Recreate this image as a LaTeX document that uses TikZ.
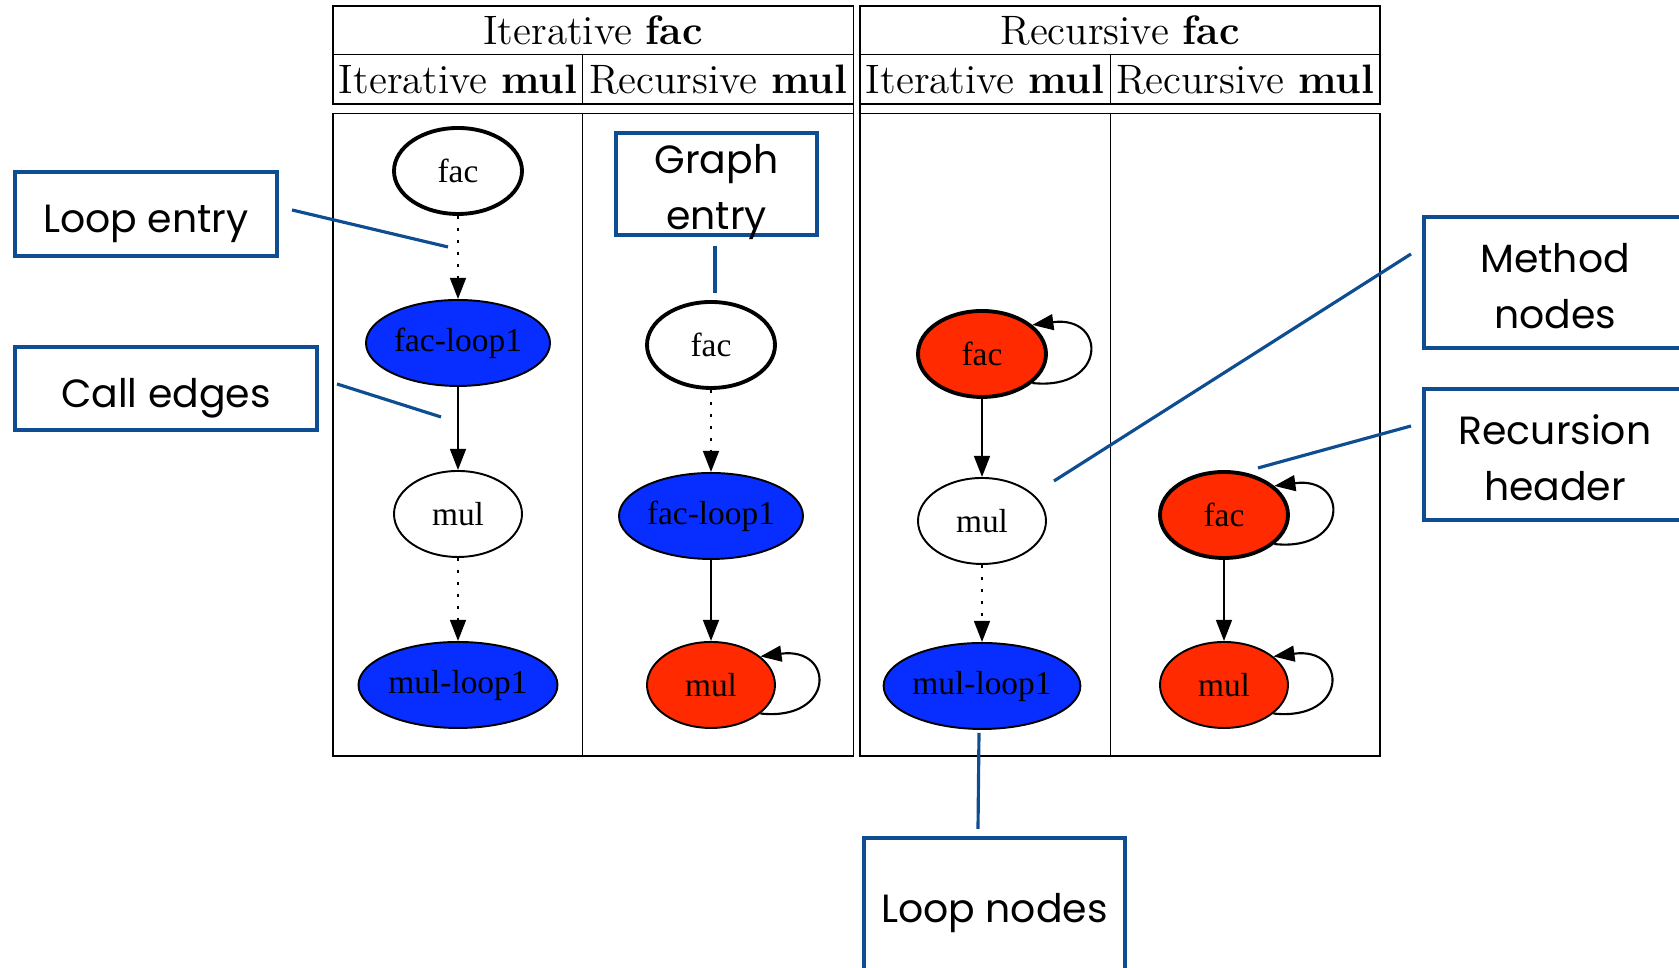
\documentclass[tikz,border=0pt]{standalone}
\usepackage{fontspec}
\newfontfamily\graphfont{Liberation Serif}
\newfontfamily\notefont{Poppins}
\usetikzlibrary{shapes.geometric,arrows.meta}
\definecolor{noteblue}{RGB}{14,77,146}
\definecolor{loopblue}{RGB}{8,46,255}
\definecolor{recred}{RGB}{255,42,0}
\tikzset{
  cg/.style={ellipse,draw,line width=0.55pt,minimum width=1.28cm,minimum height=0.86cm,inner sep=0pt,font=\graphfont\fontsize{9.5}{11}\selectfont},
  entrynode/.style={cg,line width=1.1pt},
  loopnode/.style={cg,fill=loopblue,minimum width=1.84cm},
  recnode/.style={cg,fill=recred},
  callarrow/.style={line width=0.6pt,-{Triangle[length=6pt,width=4.5pt]}},
  entryarrow/.style={callarrow,dash pattern=on 0.8pt off 2.6pt},
  notebox/.style={draw=noteblue,line width=0.9pt,align=center,inner sep=0pt,text height=10.8pt,text depth=0pt,font=\notefont\fontsize{11.2}{15.9}\selectfont},
  twolines/.style={text height=26pt},
  noteline/.style={draw=noteblue,line width=0.9pt},
  tab/.style={line width=0.5pt},
  head/.style={font=\fontsize{11.7}{14}\selectfont}
}
\begin{document}
\begin{tikzpicture}
\path[use as bounding box,clip] (0,0) rectangle (16.79,9.68);
\draw[tab] (3.33,9.616) rectangle (8.534,8.64);
\draw[tab] (8.60,9.616) rectangle (13.80,8.64);
\draw[tab] (3.33,9.134) -- (8.534,9.134);
\draw[tab] (8.60,9.134) -- (13.80,9.134);
\draw[tab] (3.33,8.545) rectangle (8.534,2.12);
\draw[tab] (8.60,8.545) rectangle (13.80,2.12);
\foreach \x in {8.534,8.60} {
\draw[tab] (\x,8.64) -- (\x,8.545);}
\foreach \x in {5.825,11.104} {
\draw[tab] (\x,9.134) -- (\x,8.64);
\draw[tab] (\x,8.545) -- (\x,2.12);}
\node[head] (itfac) at (5.93,9.375) {Iterative \textbf{fac}};
\node[head] (recfac) at (11.2,9.375) {Recursive \textbf{fac}};
\node[head] (itmula) at (4.58,8.887) {Iterative \textbf{mul}};
\node[head] (recmula) at (7.18,8.887) {Recursive \textbf{mul}};
\node[head] (itmulb) at (9.85,8.887) {Iterative \textbf{mul}};
\node[head] (recmulb) at (12.45,8.887) {Recursive \textbf{mul}};
\node[entrynode] (fac1) at (4.58,7.97) {fac};
\node[loopnode] (facloop1) at (4.58,6.25) {fac-loop1};
\node[cg] (mul1) at (4.58,4.54) {mul};
\node[loopnode,minimum width=1.99cm] (mulloop1) at (4.58,2.83) {mul-loop1};
\node[entrynode] (fac2) at (7.11,6.23) {fac};
\node[loopnode] (facloop2) at (7.11,4.52) {fac-loop1};
\node[recnode] (mul2) at (7.11,2.83) {mul};
\node[recnode,entrynode] (fac3) at (9.82,6.14) {fac};
\node[cg] (mul3) at (9.82,4.47) {mul};
\node[loopnode,minimum width=1.93cm] (mulloop3) at (9.82,2.82) {mul-loop1};
\node[recnode,entrynode] (fac4) at (12.24,4.53) {fac};
\node[recnode] (mul4) at (12.24,2.83) {mul};
\draw[entryarrow] (fac1) -- (facloop1);
\draw[callarrow] (facloop1) -- (mul1);
\draw[entryarrow] (mul1) -- (mulloop1);
\draw[entryarrow] (fac2) -- (facloop2);
\draw[callarrow] (facloop2) -- (mul2);
\draw[callarrow] (fac3) -- (mul3);
\draw[entryarrow] (mul3) -- (mulloop3);
\draw[callarrow] (fac4) -- (mul4);
\foreach \n in {mul2,fac3,fac4,mul4} {
\draw[callarrow] (\n.-30) .. controls +(0.75,-0.08) and +(0.75,0.1) .. (\n.30);}
\node[notebox,minimum width=2.62cm,minimum height=0.84cm] (loopentry) at (1.46,7.54) {Loop entry};
\node[notebox,minimum width=3.02cm,minimum height=0.83cm] (calledges) at (1.66,5.795) {Call edges};
\node[notebox,twolines,minimum width=2.01cm,minimum height=1.02cm] (graphentry) at (7.165,7.84) {Graph\\entry};
\node[notebox,twolines,minimum width=2.62cm,minimum height=1.31cm] (methodnodes) at (15.55,6.855) {Method\\nodes};
\node[notebox,twolines,minimum width=2.62cm,minimum height=1.31cm] (rechead) at (15.55,5.135) {Recursion\\header};
\node[notebox,minimum width=2.61cm,minimum height=1.32cm] (loopnodes) at (9.945,0.64) {Loop nodes};
\coordinate (le1) at (2.92,7.58);
\coordinate (le2) at (4.48,7.21);
\coordinate (ce1) at (3.37,5.84);
\coordinate (ce2) at (4.41,5.51);
\coordinate (ge1) at (7.15,7.22);
\coordinate (ge2) at (7.15,6.75);
\coordinate (mn1) at (14.11,7.14);
\coordinate (mn2) at (10.54,4.87);
\coordinate (rh1) at (14.11,5.42);
\coordinate (rh2) at (12.58,5.00);
\coordinate (ln1) at (9.79,2.35);
\coordinate (ln2) at (9.78,1.39);
\draw[noteline] (le1) -- (le2);
\draw[noteline] (ce1) -- (ce2);
\draw[noteline] (ge1) -- (ge2);
\draw[noteline] (mn1) -- (mn2);
\draw[noteline] (rh1) -- (rh2);
\draw[noteline] (ln1) -- (ln2);
\end{tikzpicture}
\end{document}
